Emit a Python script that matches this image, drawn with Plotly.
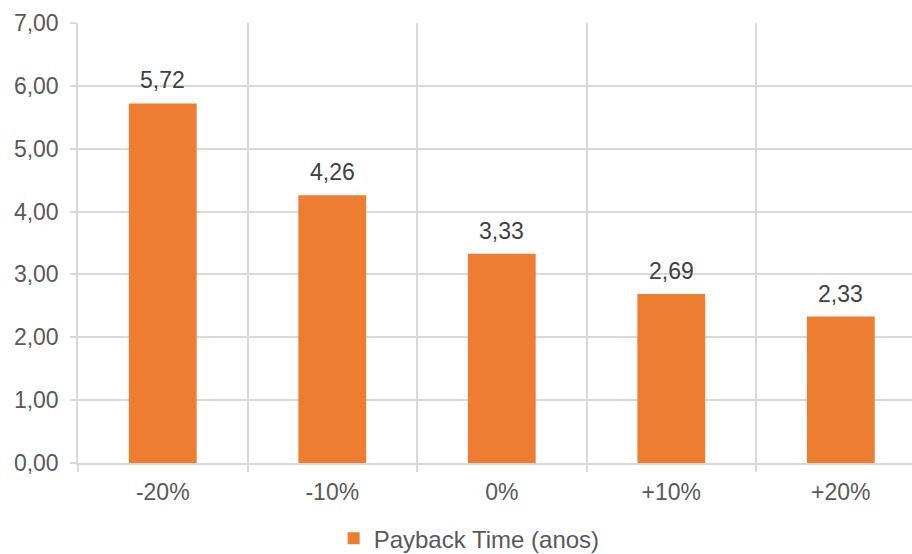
import plotly.graph_objects as go

# Payback time per price scenario
scenarios = ["-20%", "-10%", "0%", "+10%", "+20%"]
payback_years = [5.72, 4.26, 3.33, 2.69, 2.33]
y_ticks = [0, 1, 2, 3, 4, 5, 6, 7]

BAR_COLOR = "#ED7D31"
GRID = "#D9D9D9"
FONT = "Liberation Sans, Arial, sans-serif"
FS = 23

fig = go.Figure()
fig.add_trace(go.Bar(
    x=scenarios,
    y=payback_years,
    name="Payback Time (anos)",
    marker=dict(color=BAR_COLOR, line=dict(width=0)),
))

for cat, val in zip(scenarios, payback_years):
    fig.add_annotation(
        x=cat, y=val, xref="x", yref="y",
        text=f"{val:.2f}".replace(".", ","),
        showarrow=False, yanchor="bottom", yshift=8,
        font=dict(family=FONT, size=FS, color="#404040"),
    )

fig.update_layout(
    width=912, height=554,
    margin=dict(l=78, r=0, t=23, b=91, autoexpand=False),
    paper_bgcolor="white", plot_bgcolor="white",
    separators=",.",
    bargap=0.6,
    font=dict(family=FONT, size=FS, color="#595959"),
    showlegend=True,
    legend=dict(
        orientation="h", x=0.469, xanchor="center", y=-0.172, yanchor="middle",
        font=dict(family=FONT, size=24, color="#595959"),
        itemwidth=30,
    ),
)

fig.update_xaxes(
    type="category",
    range=[-0.5, 4.42],
    tickson="boundaries",
    showgrid=True, gridcolor=GRID, gridwidth=1.5,
    showline=True, linecolor=GRID, linewidth=1.5,
    ticks="outside", ticklen=7, tickcolor=GRID, tickwidth=1.5,
    ticklabelstandoff=8,
    tickfont=dict(family=FONT, size=FS, color="#595959"),
    zeroline=False,
)

fig.update_yaxes(
    range=[0, 7],
    tickvals=y_ticks,
    tickformat=".2f",
    showgrid=True, gridcolor=GRID, gridwidth=1.5,
    showline=True, linecolor=GRID, linewidth=1.5,
    ticks="outside", ticklen=6, tickcolor=GRID, tickwidth=1.5,
    ticklabelstandoff=7,
    tickfont=dict(family=FONT, size=FS, color="#595959"),
    zeroline=False,
)

fig.write_html("out.html")
